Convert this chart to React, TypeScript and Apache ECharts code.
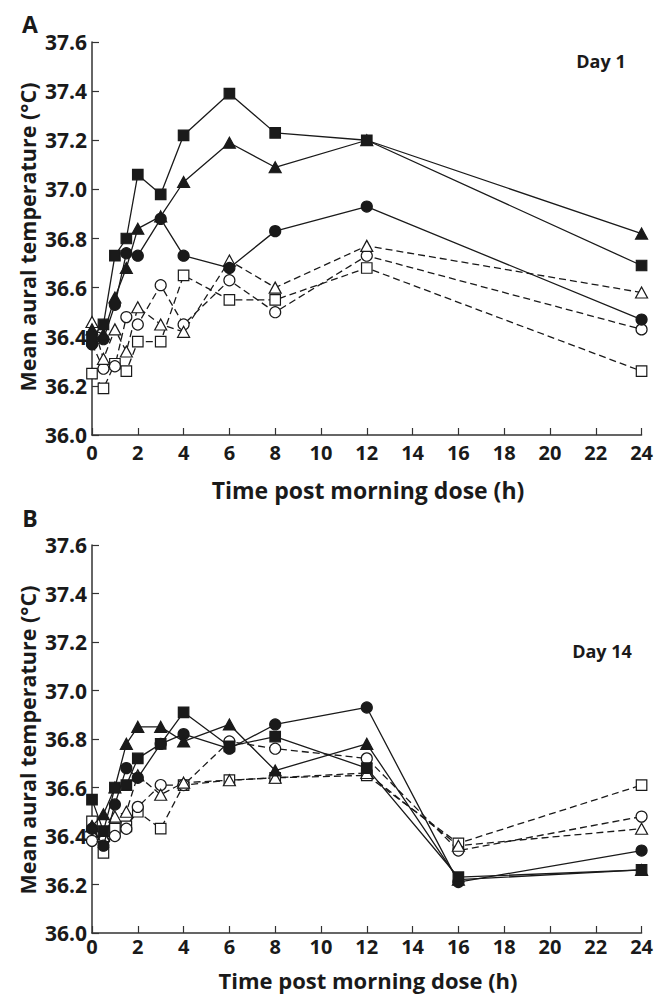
import React, { useEffect, useRef } from "react";
import * as echarts from "echarts";

const timesA = [0, 0.5, 1, 1.5, 2, 3, 4, 6, 8, 12, 24];
const timesB = [0, 0.5, 1, 1.5, 2, 3, 4, 6, 8, 12, 16, 24];

const aFilledSquare = [36.4, 36.45, 36.73, 36.8, 37.06, 36.98, 37.22, 37.39, 37.23, 37.2, 36.69];
const aFilledTriangle = [36.43, 36.41, 36.56, 36.68, 36.84, 36.89, 37.03, 37.19, 37.09, 37.2, 36.82];
const aFilledCircle = [36.37, 36.39, 36.53, 36.74, 36.73, 36.88, 36.73, 36.68, 36.83, 36.93, 36.47];
const aOpenTriangle = [36.46, 36.31, 36.43, 36.34, 36.52, 36.45, 36.42, 36.71, 36.6, 36.77, 36.58];
const aOpenCircle = [36.37, 36.27, 36.28, 36.48, 36.45, 36.61, 36.45, 36.63, 36.5, 36.73, 36.43];
const aOpenSquare = [36.25, 36.19, 36.29, 36.26, 36.38, 36.38, 36.65, 36.55, 36.55, 36.68, 36.26];

const bFilledSquare = [36.55, 36.42, 36.6, 36.61, 36.72, 36.78, 36.91, 36.77, 36.81, 36.68, 36.23, 36.26];
const bFilledTriangle = [36.44, 36.49, 36.6, 36.78, 36.85, 36.85, 36.79, 36.86, 36.67, 36.78, 36.22, 36.26];
const bFilledCircle = [36.43, 36.36, 36.53, 36.68, 36.64, 36.78, 36.82, 36.76, 36.86, 36.93, 36.21, 36.34];
const bOpenTriangle = [36.44, 36.4, 36.48, 36.5, 36.65, 36.57, 36.62, 36.63, 36.64, 36.66, 36.36, 36.43];
const bOpenCircle = [36.38, 36.38, 36.4, 36.43, 36.52, 36.61, 36.61, 36.79, 36.76, 36.72, 36.34, 36.48];
const bOpenSquare = [36.46, 36.33, 36.43, 36.44, 36.5, 36.43, 36.61, 36.63, 36.64, 36.65, 36.37, 36.61];

const xTicks = [0, 24, 2];
const yTicks = [36.0, 37.6, 0.2];

const INK = "#1a1a1a";
const FONT = "Open Sans";

function pairs(times: number[], vals: number[]) {
  return times.map((t, i) => [t, vals[i]]);
}

function mkSeries(
  name: string,
  times: number[],
  vals: number[],
  symbol: string,
  filled: boolean,
  axisIndex: number
) {
  let size: any = 11;
  if (symbol === "rect") size = 10.5;
  if (symbol === "triangle") size = [12, 11];
  return {
    name,
    type: "line",
    xAxisIndex: axisIndex,
    yAxisIndex: axisIndex,
    data: pairs(times, vals),
    symbol,
    symbolSize: size,
    showAllSymbol: true,
    lineStyle: {
      color: INK,
      width: 1.3,
      type: filled ? "solid" : [7, 4],
    },
    itemStyle: {
      color: filled ? INK : "#ffffff",
      borderColor: INK,
      borderWidth: 1.2,
    },
    z: filled ? 3 : 2,
  };
}

export default function App() {
  const ref = useRef<HTMLDivElement>(null);
  useEffect(() => {
    if (!ref.current) return;
    const chart = echarts.init(ref.current, null, { renderer: "svg" });
    const grids = [
      { left: 92, top: 42, width: 552, height: 393 },
      { left: 92, top: 545, width: 552, height: 388 },
    ];
    const xAxes = [0, 1].map((i) => ({
      type: "value",
      gridIndex: i,
      min: xTicks[0],
      max: xTicks[1],
      interval: xTicks[2],
      axisLine: { show: true, lineStyle: { color: "#333", width: 1.5 } },
      axisTick: { show: true, inside: true, length: 7, lineStyle: { color: "#333", width: 1.2 } },
      splitLine: { show: false },
      axisLabel: {
        color: INK,
        fontFamily: FONT,
        fontWeight: "bold",
        fontSize: 20,
        margin: i === 0 ? 7 : 3,
      },
    }));
    const yAxes = [0, 1].map((i) => ({
      type: "value",
      gridIndex: i,
      min: yTicks[0],
      max: yTicks[1],
      interval: yTicks[2],
      axisLine: { show: true, lineStyle: { color: "#333", width: 1.5 } },
      axisTick: { show: true, inside: true, length: 7, lineStyle: { color: "#333", width: 1.2 } },
      splitLine: { show: false },
      axisLabel: {
        color: INK,
        fontFamily: FONT,
        fontWeight: "bold",
        fontSize: 21,
        margin: 5,
        formatter: (v: number) => v.toFixed(1),
      },
    }));
    const series = [
      mkSeries("A open square", timesA, aOpenSquare, "rect", false, 0),
      mkSeries("A open circle", timesA, aOpenCircle, "circle", false, 0),
      mkSeries("A open triangle", timesA, aOpenTriangle, "triangle", false, 0),
      mkSeries("A filled circle", timesA, aFilledCircle, "circle", true, 0),
      mkSeries("A filled triangle", timesA, aFilledTriangle, "triangle", true, 0),
      mkSeries("A filled square", timesA, aFilledSquare, "rect", true, 0),
      mkSeries("B open square", timesB, bOpenSquare, "rect", false, 1),
      mkSeries("B open circle", timesB, bOpenCircle, "circle", false, 1),
      mkSeries("B open triangle", timesB, bOpenTriangle, "triangle", false, 1),
      mkSeries("B filled circle", timesB, bFilledCircle, "circle", true, 1),
      mkSeries("B filled triangle", timesB, bFilledTriangle, "triangle", true, 1),
      mkSeries("B filled square", timesB, bFilledSquare, "rect", true, 1),
    ];
    const textStyle = (text: string, size: number) => ({
      text,
      fill: INK,
      font: `bold ${size}px "${FONT}"`,
      textAlign: "center",
      textVerticalAlign: "middle",
    });
    const graphic = [
      { type: "text", x: 30, y: 24, style: textStyle("A", 23) },
      { type: "text", x: 30, y: 518, style: textStyle("B", 23) },
      { type: "text", x: 601, y: 61, style: textStyle("Day 1", 18) },
      { type: "text", x: 602, y: 651, style: textStyle("Day 14", 18) },
      { type: "text", x: 368, y: 490, style: textStyle("Time post morning dose (h)", 23) },
      { type: "text", x: 368, y: 980, style: textStyle("Time post morning dose (h)", 22) },
      { type: "text", x: 27, y: 237, rotation: Math.PI / 2, style: textStyle("Mean aural temperature (°C)", 21.5) },
      { type: "text", x: 27, y: 740, rotation: Math.PI / 2, style: textStyle("Mean aural temperature (°C)", 21.5) },
    ];
    chart.setOption({
      animation: false,
      backgroundColor: "#ffffff",
      grid: grids,
      xAxis: xAxes,
      yAxis: yAxes,
      series,
      graphic,
    });
    return () => chart.dispose();
  }, []);
  return (
    <div
      ref={ref}
      style={{ position: "absolute", left: 0, top: 0, width: 656, height: 994 }}
    />
  );
}
